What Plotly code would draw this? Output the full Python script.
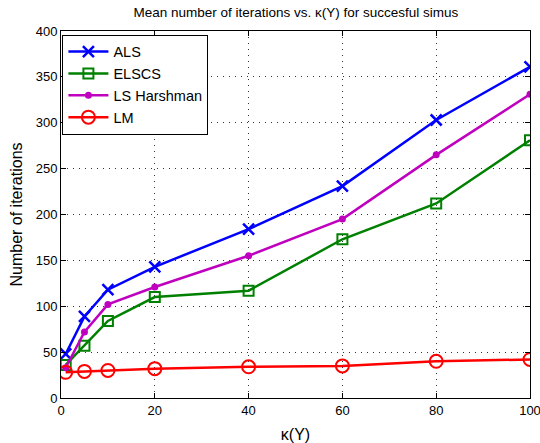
import plotly.graph_objects as go

# condition number values on the x axis
kappa = [1, 5, 10, 20, 40, 60, 80, 100]

# mean number of iterations for each algorithm
als = [48, 89, 118, 143, 184, 231, 303, 361]
elscs = [36, 57, 84, 110, 117, 173, 212, 281]
ls_harshman = [33, 72, 102, 121, 155, 195, 265, 331]
lm = [28, 29, 30, 32, 34, 35, 40, 42]

x_ticks = [0, 20, 40, 60, 80, 100]
y_ticks = [0, 50, 100, 150, 200, 250, 300, 350, 400]

series = [
    ("ALS", als, "rgb(0,0,255)", dict(symbol="x-thin", size=11, line=dict(width=2.5, color="rgb(0,0,255)"))),
    ("ELSCS", elscs, "rgb(0,128,0)", dict(symbol="square-open", size=10, line=dict(width=2, color="rgb(0,128,0)"))),
    ("LS Harshman", ls_harshman, "rgb(191,0,191)", dict(symbol="circle", size=7, color="rgb(191,0,191)", line=dict(width=0))),
    ("LM", lm, "rgb(255,0,0)", dict(symbol="circle-open", size=13, line=dict(width=2, color="rgb(255,0,0)"))),
]

fig = go.Figure()
for name, vals, color, marker in series:
    fig.add_trace(go.Scatter(
        x=kappa, y=vals, name=name, mode="lines+markers",
        line=dict(color=color, width=2.5),
        marker=marker,
    ))

axis_common = dict(
    showline=True, linecolor="black", linewidth=1, mirror="ticks",
    ticks="inside", ticklen=5, tickcolor="black",
    showgrid=True, gridcolor="rgb(50,50,50)", griddash="1px,5px", gridwidth=1,
    zeroline=False, ticklabeloverflow="allow", automargin=False,
    tickfont=dict(family="Liberation Sans, Arial, sans-serif", size=13, color="black"),
)

fig.update_layout(
    width=540, height=443,
    margin=dict(l=61, r=10, t=31, b=45),
    paper_bgcolor="white", plot_bgcolor="white",
    font=dict(family="Liberation Sans, Arial, sans-serif", color="black"),
    title=dict(
        text="Mean number of iterations vs. κ(Y) for succesful simus",
        x=0.548, xanchor="center", y=0.972, yanchor="middle",
        font=dict(size=13.5, color="black"),
    ),
    xaxis=dict(
        range=[0, 100], tickvals=x_ticks,
        title=dict(text="κ(Y)", font=dict(size=16), standoff=12),
        **axis_common,
    ),
    yaxis=dict(
        range=[0, 400], tickvals=y_ticks,
        title=dict(text="Number of iterations", font=dict(size=16), standoff=9),
        **axis_common,
    ),
    legend=dict(
        x=0.003, y=0.99, xanchor="left", yanchor="top",
        bgcolor="white", bordercolor="black", borderwidth=1,
        font=dict(size=14.5, color="black"),
        tracegroupgap=0, itemwidth=40,
    ),
    showlegend=True,
)

fig.write_html("out.html")
